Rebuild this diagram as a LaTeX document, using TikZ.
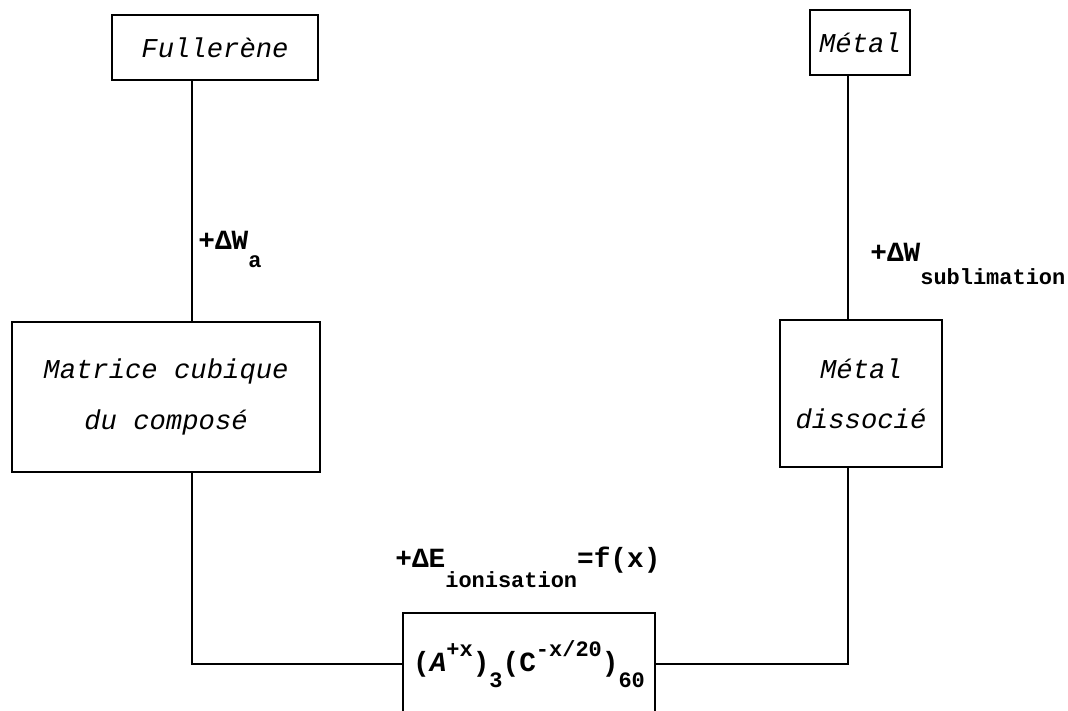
\documentclass[tikz,border=0pt]{standalone}
\usepackage{fontspec}
\setmonofont{Liberation Mono}
\usetikzlibrary{positioning}

\newcommand{\lowtext}[2]{\raisebox{-#1}{\fontsize{12.5}{14}\selectfont #2}}
\newcommand{\hightext}[2]{\raisebox{#1}{\fontsize{12.5}{14}\selectfont #2}}

\begin{document}
\begin{tikzpicture}[
    box/.style={
        draw, line width=1.1pt, align=center, inner sep=0pt,
        font=\ttfamily\itshape\fontsize{15.5}{28.5}\selectfont
    },
    energy/.style={
        anchor=base west, inner sep=0pt,
        font=\ttfamily\bfseries\fontsize{15.8}{18}\selectfont
    },
    link/.style={line width=1.1pt}
]
\useasboundingbox (0,0) rectangle (21.36,14.2);

% Boxes
\node[box, minimum width=4.12cm, minimum height=1.3cm] (fullerene) at (4.30, 13.25) {Fullerène};
\node[box, minimum width=2.0cm, minimum height=1.3cm] (metal) at (17.20, 13.35) {Métal};
\node[box, minimum width=6.16cm, minimum height=3.0cm] (matrice) at (3.32, 6.26) {Matrice cubique\\du composé};
\node[box, minimum width=3.24cm, minimum height=2.94cm] (dissocie) at (17.22, 6.33) {Métal\\dissocié};
\node[box, minimum width=5.04cm, minimum height=2.04cm,
      font=\ttfamily\bfseries\fontsize{15.8}{18}\selectfont] (compose) at (10.58, 0.92)
      {(\textit{A}\hightext{8.5pt}{+x})\lowtext{9pt}{3}(C\hightext{8.5pt}{-x/20})\lowtext{9pt}{60}};

% Connector columns
\coordinate (leftcol) at (3.84, 0);
\coordinate (rightcol) at (16.96, 0);

% Connectors
\draw[link] (fullerene.south -| leftcol) -- (matrice.north -| leftcol);
\draw[link] (metal.south -| rightcol) -- (dissocie.north -| rightcol);
\draw[link] (matrice.south -| leftcol) |- (compose.west);
\draw[link] (dissocie.south -| rightcol) |- (compose.east);

% Energy terms
\node[energy] (wa) at (3.96, 9.2) {+ΔW\lowtext{10pt}{a}};
\node[energy] (wsub) at (17.40, 8.96) {+ΔW\lowtext{13pt}{sublimation}};
\node[energy] (eion) at (7.90, 2.84) {+ΔE\lowtext{11pt}{ionisation}=f(x)};

\end{tikzpicture}
\end{document}
